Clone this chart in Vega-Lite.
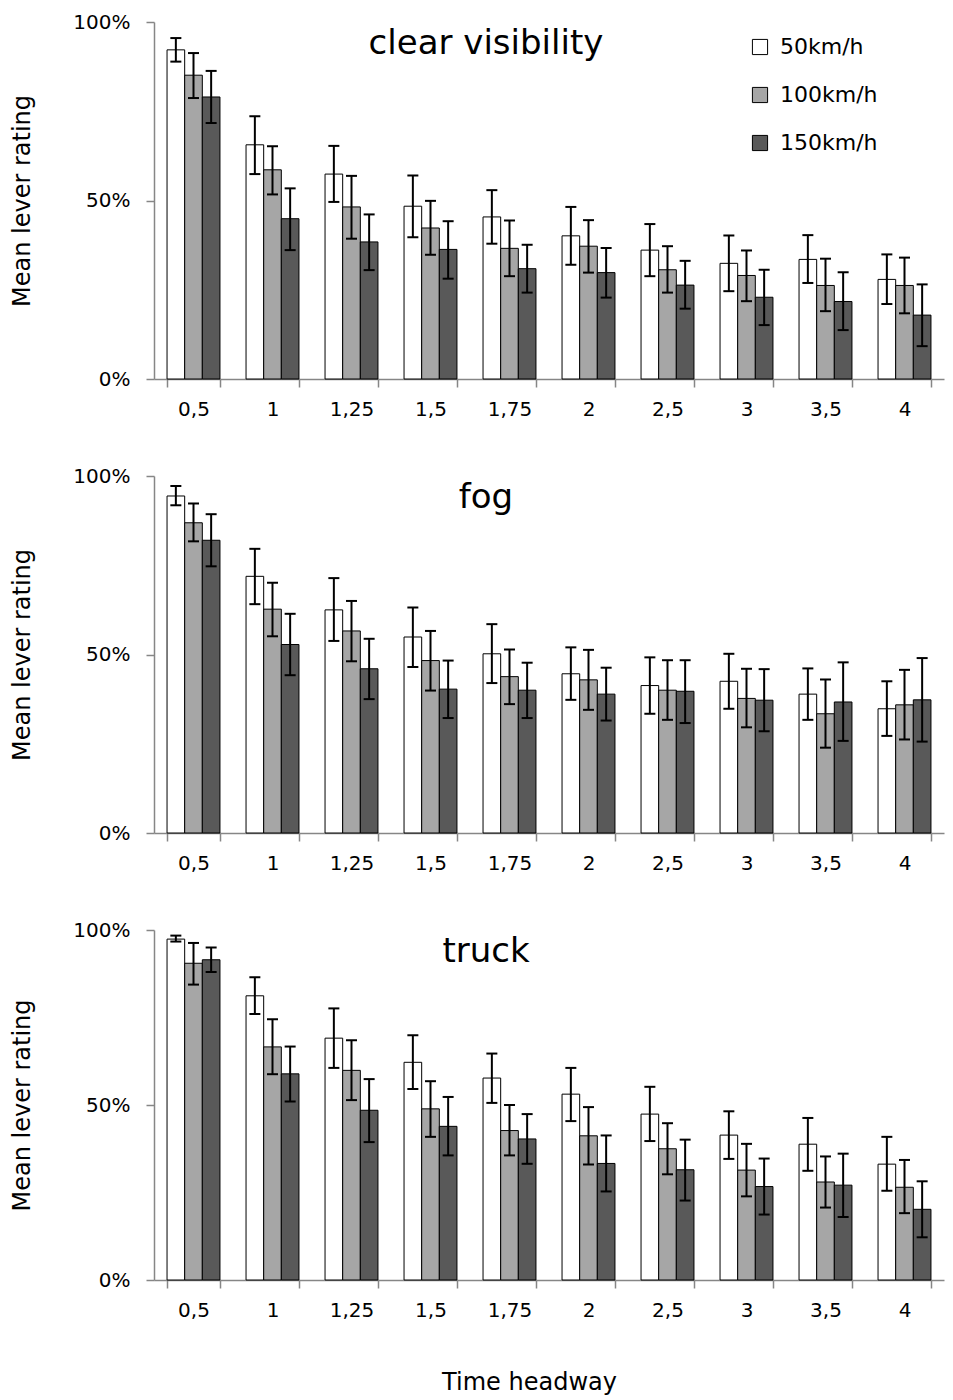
{
  "$schema": "https://vega.github.io/schema/vega-lite/v6.json",
  "padding": {"left": 10, "top": 12, "right": 6, "bottom": 5},
  "background": "white",
  "config": {
    "font": "DejaVu Sans",
    "view": {"stroke": null},
    "concat": {"spacing": 47},
    "axis": {
      "grid": false,
      "domainColor": "#868686",
      "tickColor": "#868686",
      "domainWidth": 1.5,
      "tickWidth": 1.5,
      "tickSize": 8,
      "labelFontSize": 20,
      "labelColor": "#000000",
      "titleColor": "#000000",
      "titleFontSize": 24,
      "titleFontWeight": "normal"
    },
    "legend": {
      "orient": "none",
      "legendX": 595,
      "legendY": 14,
      "title": null,
      "symbolType": "square",
      "symbolSize": 230,
      "symbolStrokeColor": "#000000",
      "symbolStrokeWidth": 1,
      "symbolOpacity": 1,
      "labelFontSize": 22,
      "labelColor": "#000000",
      "labelOffset": 9,
      "rowPadding": 26
    },
    "title": {"fontSize": 34, "fontWeight": "normal", "color": "#000000", "frame": "group", "anchor": "middle", "dx": -63, "offset": -49, "baseline": "alphabetic"}
  },
  "datasets": {
    "d": [
      {"p":"clear","h":"0,5","s":"50km/h","m":92.2,"lo":88.9,"hi":95.5},
      {"p":"clear","h":"0,5","s":"100km/h","m":85.1,"lo":78.7,"hi":91.3},
      {"p":"clear","h":"0,5","s":"150km/h","m":79.0,"lo":71.7,"hi":86.3},
      {"p":"clear","h":"1","s":"50km/h","m":65.6,"lo":57.4,"hi":73.6},
      {"p":"clear","h":"1","s":"100km/h","m":58.6,"lo":51.7,"hi":65.2},
      {"p":"clear","h":"1","s":"150km/h","m":44.9,"lo":36.1,"hi":53.4},
      {"p":"clear","h":"1,25","s":"50km/h","m":57.4,"lo":49.6,"hi":65.3},
      {"p":"clear","h":"1,25","s":"100km/h","m":48.2,"lo":39.3,"hi":56.9},
      {"p":"clear","h":"1,25","s":"150km/h","m":38.4,"lo":30.5,"hi":46.1},
      {"p":"clear","h":"1,5","s":"50km/h","m":48.4,"lo":39.7,"hi":57.0},
      {"p":"clear","h":"1,5","s":"100km/h","m":42.3,"lo":34.8,"hi":49.9},
      {"p":"clear","h":"1,5","s":"150km/h","m":36.3,"lo":28.1,"hi":44.2},
      {"p":"clear","h":"1,75","s":"50km/h","m":45.4,"lo":37.9,"hi":52.9},
      {"p":"clear","h":"1,75","s":"100km/h","m":36.6,"lo":28.8,"hi":44.4},
      {"p":"clear","h":"1,75","s":"150km/h","m":30.9,"lo":24.2,"hi":37.6},
      {"p":"clear","h":"2","s":"50km/h","m":40.1,"lo":32.0,"hi":48.2},
      {"p":"clear","h":"2","s":"100km/h","m":37.2,"lo":29.8,"hi":44.5},
      {"p":"clear","h":"2","s":"150km/h","m":29.8,"lo":22.8,"hi":36.7},
      {"p":"clear","h":"2,5","s":"50km/h","m":36.1,"lo":28.8,"hi":43.4},
      {"p":"clear","h":"2,5","s":"100km/h","m":30.6,"lo":24.2,"hi":37.2},
      {"p":"clear","h":"2,5","s":"150km/h","m":26.3,"lo":19.7,"hi":33.1},
      {"p":"clear","h":"3","s":"50km/h","m":32.4,"lo":24.6,"hi":40.2},
      {"p":"clear","h":"3","s":"100km/h","m":29.0,"lo":21.8,"hi":36.0},
      {"p":"clear","h":"3","s":"150km/h","m":22.9,"lo":15.1,"hi":30.6},
      {"p":"clear","h":"3,5","s":"50km/h","m":33.5,"lo":26.9,"hi":40.3},
      {"p":"clear","h":"3,5","s":"100km/h","m":26.2,"lo":19.0,"hi":33.7},
      {"p":"clear","h":"3,5","s":"150km/h","m":21.7,"lo":13.7,"hi":29.9},
      {"p":"clear","h":"4","s":"50km/h","m":27.9,"lo":21.0,"hi":34.9},
      {"p":"clear","h":"4","s":"100km/h","m":26.2,"lo":18.4,"hi":34.0},
      {"p":"clear","h":"4","s":"150km/h","m":17.9,"lo":9.2,"hi":26.5},

      {"p":"fog","h":"0,5","s":"50km/h","m":94.4,"lo":91.8,"hi":97.2},
      {"p":"fog","h":"0,5","s":"100km/h","m":86.9,"lo":81.7,"hi":92.3},
      {"p":"fog","h":"0,5","s":"150km/h","m":82.0,"lo":74.7,"hi":89.3},
      {"p":"fog","h":"1","s":"50km/h","m":71.9,"lo":64.1,"hi":79.6},
      {"p":"fog","h":"1","s":"100km/h","m":62.7,"lo":55.1,"hi":70.1},
      {"p":"fog","h":"1","s":"150km/h","m":52.8,"lo":44.2,"hi":61.4},
      {"p":"fog","h":"1,25","s":"50km/h","m":62.5,"lo":53.8,"hi":71.4},
      {"p":"fog","h":"1,25","s":"100km/h","m":56.6,"lo":48.1,"hi":65.0},
      {"p":"fog","h":"1,25","s":"150km/h","m":46.0,"lo":37.5,"hi":54.4},
      {"p":"fog","h":"1,5","s":"50km/h","m":54.9,"lo":46.5,"hi":63.2},
      {"p":"fog","h":"1,5","s":"100km/h","m":48.3,"lo":39.9,"hi":56.6},
      {"p":"fog","h":"1,5","s":"150km/h","m":40.3,"lo":32.2,"hi":48.3},
      {"p":"fog","h":"1,75","s":"50km/h","m":50.2,"lo":42.0,"hi":58.5},
      {"p":"fog","h":"1,75","s":"100km/h","m":43.8,"lo":36.1,"hi":51.4},
      {"p":"fog","h":"1,75","s":"150km/h","m":40.0,"lo":32.2,"hi":47.7},
      {"p":"fog","h":"2","s":"50km/h","m":44.6,"lo":37.3,"hi":52.0},
      {"p":"fog","h":"2","s":"100km/h","m":42.9,"lo":34.5,"hi":51.3},
      {"p":"fog","h":"2","s":"150km/h","m":38.9,"lo":31.5,"hi":46.3},
      {"p":"fog","h":"2,5","s":"50km/h","m":41.3,"lo":33.4,"hi":49.2},
      {"p":"fog","h":"2,5","s":"100km/h","m":40.0,"lo":31.7,"hi":48.4},
      {"p":"fog","h":"2,5","s":"150km/h","m":39.7,"lo":30.8,"hi":48.4},
      {"p":"fog","h":"3","s":"50km/h","m":42.5,"lo":34.8,"hi":50.2},
      {"p":"fog","h":"3","s":"100km/h","m":37.7,"lo":29.6,"hi":46.0},
      {"p":"fog","h":"3","s":"150km/h","m":37.2,"lo":28.5,"hi":45.9},
      {"p":"fog","h":"3,5","s":"50km/h","m":38.9,"lo":31.7,"hi":46.1},
      {"p":"fog","h":"3,5","s":"100km/h","m":33.4,"lo":23.9,"hi":43.0},
      {"p":"fog","h":"3,5","s":"150km/h","m":36.7,"lo":25.8,"hi":47.8},
      {"p":"fog","h":"4","s":"50km/h","m":34.8,"lo":27.2,"hi":42.5},
      {"p":"fog","h":"4","s":"100km/h","m":35.9,"lo":26.2,"hi":45.7},
      {"p":"fog","h":"4","s":"150km/h","m":37.3,"lo":25.6,"hi":49.0},

      {"p":"truck","h":"0,5","s":"50km/h","m":97.4,"lo":96.7,"hi":98.4},
      {"p":"truck","h":"0,5","s":"100km/h","m":90.5,"lo":84.4,"hi":96.3},
      {"p":"truck","h":"0,5","s":"150km/h","m":91.5,"lo":88.0,"hi":95.0},
      {"p":"truck","h":"1","s":"50km/h","m":81.2,"lo":76.0,"hi":86.5},
      {"p":"truck","h":"1","s":"100km/h","m":66.6,"lo":58.8,"hi":74.5},
      {"p":"truck","h":"1","s":"150km/h","m":58.9,"lo":51.0,"hi":66.7},
      {"p":"truck","h":"1,25","s":"50km/h","m":69.1,"lo":60.6,"hi":77.6},
      {"p":"truck","h":"1,25","s":"100km/h","m":59.9,"lo":51.4,"hi":68.5},
      {"p":"truck","h":"1,25","s":"150km/h","m":48.5,"lo":39.4,"hi":57.4},
      {"p":"truck","h":"1,5","s":"50km/h","m":62.2,"lo":54.6,"hi":69.9},
      {"p":"truck","h":"1,5","s":"100km/h","m":48.9,"lo":40.9,"hi":56.8},
      {"p":"truck","h":"1,5","s":"150km/h","m":43.9,"lo":35.6,"hi":52.3},
      {"p":"truck","h":"1,75","s":"50km/h","m":57.7,"lo":50.6,"hi":64.7},
      {"p":"truck","h":"1,75","s":"100km/h","m":42.7,"lo":35.6,"hi":50.0},
      {"p":"truck","h":"1,75","s":"150km/h","m":40.3,"lo":33.2,"hi":47.4},
      {"p":"truck","h":"2","s":"50km/h","m":53.1,"lo":45.4,"hi":60.6},
      {"p":"truck","h":"2","s":"100km/h","m":41.2,"lo":33.0,"hi":49.4},
      {"p":"truck","h":"2","s":"150km/h","m":33.3,"lo":25.3,"hi":41.3},
      {"p":"truck","h":"2,5","s":"50km/h","m":47.4,"lo":39.7,"hi":55.2},
      {"p":"truck","h":"2,5","s":"100km/h","m":37.5,"lo":30.2,"hi":44.8},
      {"p":"truck","h":"2,5","s":"150km/h","m":31.5,"lo":22.7,"hi":40.1},
      {"p":"truck","h":"3","s":"50km/h","m":41.4,"lo":34.6,"hi":48.2},
      {"p":"truck","h":"3","s":"100km/h","m":31.4,"lo":23.9,"hi":38.9},
      {"p":"truck","h":"3","s":"150km/h","m":26.7,"lo":18.7,"hi":34.7},
      {"p":"truck","h":"3,5","s":"50km/h","m":38.8,"lo":31.2,"hi":46.3},
      {"p":"truck","h":"3,5","s":"100km/h","m":28.0,"lo":20.7,"hi":35.3},
      {"p":"truck","h":"3,5","s":"150km/h","m":27.1,"lo":18.0,"hi":36.1},
      {"p":"truck","h":"4","s":"50km/h","m":33.1,"lo":25.5,"hi":40.9},
      {"p":"truck","h":"4","s":"100km/h","m":26.5,"lo":19.1,"hi":34.3},
      {"p":"truck","h":"4","s":"150km/h","m":20.2,"lo":12.2,"hi":28.2}
    ]
  },
  "vconcat": [
    {
      "width": 790, "height": 357,
      "data": {"name": "d"},
      "transform": [{"filter": "datum.p == 'clear'"}],
      "title": {"text": "clear visibility"},
      "encoding": {
        "x": {"field": "h", "type": "nominal", "sort": ["0,5","1","1,25","1,5","1,75","2","2,5","3","3,5","4"], "scale": {"paddingInner": 0.33, "paddingOuter": 0.165}, "axis": {"title": null, "labelAngle": 0, "tickBand": "extent", "labelPadding": 12}},
        "xOffset": {"field": "s", "type": "nominal", "sort": ["50km/h","100km/h","150km/h"]}
      },
      "layer": [
        {"mark": {"type": "bar", "stroke": "#000000", "strokeWidth": 1},
         "encoding": {
           "y": {"field": "m", "type": "quantitative", "title": "Mean lever rating", "scale": {"domain": [0, 100]}, "axis": {"values": [0, 50, 100], "labelExpr": "datum.value + '%'", "labelPadding": 16, "titlePadding": 38}},
           "fill": {"field": "s", "type": "nominal", "sort": ["50km/h","100km/h","150km/h"], "scale": {"domain": ["50km/h","100km/h","150km/h"], "range": ["#ffffff","#a6a6a6","#595959"]}, "legend": {"labelExpr": "datum.value == '50km/h' ? '\u2007' + datum.value : datum.value"}}
         }},
        {"mark": {"type": "rule", "color": "#000000", "strokeWidth": 2},
         "encoding": {"y": {"field": "lo", "type": "quantitative", "title": "Mean lever rating"}, "y2": {"field": "hi"}}},
        {"mark": {"type": "tick", "color": "#000000", "size": 11, "thickness": 2, "opacity": 1},
         "encoding": {"y": {"field": "lo", "type": "quantitative", "title": "Mean lever rating"}}},
        {"mark": {"type": "tick", "color": "#000000", "size": 11, "thickness": 2, "opacity": 1},
         "encoding": {"y": {"field": "hi", "type": "quantitative", "title": "Mean lever rating"}}}
      ]
    },
    {
      "width": 790, "height": 357,
      "data": {"name": "d"},
      "transform": [{"filter": "datum.p == 'fog'"}],
      "title": {"text": "fog"},
      "encoding": {
        "x": {"field": "h", "type": "nominal", "sort": ["0,5","1","1,25","1,5","1,75","2","2,5","3","3,5","4"], "scale": {"paddingInner": 0.33, "paddingOuter": 0.165}, "axis": {"title": null, "labelAngle": 0, "tickBand": "extent", "labelPadding": 12}},
        "xOffset": {"field": "s", "type": "nominal", "sort": ["50km/h","100km/h","150km/h"]}
      },
      "layer": [
        {"mark": {"type": "bar", "stroke": "#000000", "strokeWidth": 1},
         "encoding": {
           "y": {"field": "m", "type": "quantitative", "title": "Mean lever rating", "scale": {"domain": [0, 100]}, "axis": {"values": [0, 50, 100], "labelExpr": "datum.value + '%'", "labelPadding": 16, "titlePadding": 38}},
           "fill": {"field": "s", "type": "nominal", "sort": ["50km/h","100km/h","150km/h"], "scale": {"domain": ["50km/h","100km/h","150km/h"], "range": ["#ffffff","#a6a6a6","#595959"]}, "legend": null}
         }},
        {"mark": {"type": "rule", "color": "#000000", "strokeWidth": 2},
         "encoding": {"y": {"field": "lo", "type": "quantitative", "title": "Mean lever rating"}, "y2": {"field": "hi"}}},
        {"mark": {"type": "tick", "color": "#000000", "size": 11, "thickness": 2, "opacity": 1},
         "encoding": {"y": {"field": "lo", "type": "quantitative", "title": "Mean lever rating"}}},
        {"mark": {"type": "tick", "color": "#000000", "size": 11, "thickness": 2, "opacity": 1},
         "encoding": {"y": {"field": "hi", "type": "quantitative", "title": "Mean lever rating"}}}
      ]
    },
    {
      "width": 790, "height": 350,
      "data": {"name": "d"},
      "transform": [{"filter": "datum.p == 'truck'"}],
      "title": {"text": "truck"},
      "encoding": {
        "x": {"field": "h", "type": "nominal", "sort": ["0,5","1","1,25","1,5","1,75","2","2,5","3","3,5","4"], "scale": {"paddingInner": 0.33, "paddingOuter": 0.165}, "axis": {"title": "Time headway", "labelAngle": 0, "tickBand": "extent", "labelPadding": 12, "titlePadding": 50, "titleX": 375, "titleAlign": "center"}},
        "xOffset": {"field": "s", "type": "nominal", "sort": ["50km/h","100km/h","150km/h"]}
      },
      "layer": [
        {"mark": {"type": "bar", "stroke": "#000000", "strokeWidth": 1},
         "encoding": {
           "y": {"field": "m", "type": "quantitative", "title": "Mean lever rating", "scale": {"domain": [0, 100]}, "axis": {"values": [0, 50, 100], "labelExpr": "datum.value + '%'", "labelPadding": 16, "titlePadding": 38}},
           "fill": {"field": "s", "type": "nominal", "sort": ["50km/h","100km/h","150km/h"], "scale": {"domain": ["50km/h","100km/h","150km/h"], "range": ["#ffffff","#a6a6a6","#595959"]}, "legend": null}
         }},
        {"mark": {"type": "rule", "color": "#000000", "strokeWidth": 2},
         "encoding": {"y": {"field": "lo", "type": "quantitative", "title": "Mean lever rating"}, "y2": {"field": "hi"}}},
        {"mark": {"type": "tick", "color": "#000000", "size": 11, "thickness": 2, "opacity": 1},
         "encoding": {"y": {"field": "lo", "type": "quantitative", "title": "Mean lever rating"}}},
        {"mark": {"type": "tick", "color": "#000000", "size": 11, "thickness": 2, "opacity": 1},
         "encoding": {"y": {"field": "hi", "type": "quantitative", "title": "Mean lever rating"}}}
      ]
    }
  ]
}
